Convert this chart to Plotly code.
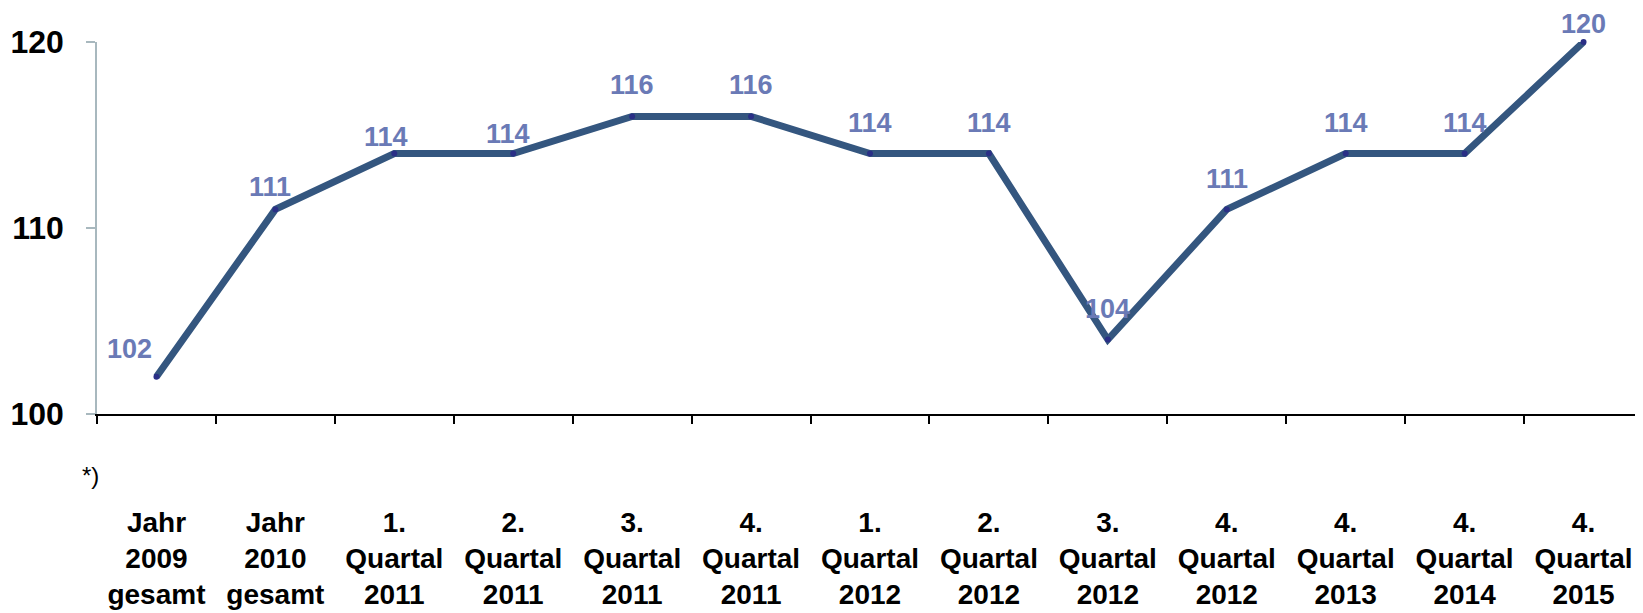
import plotly.graph_objects as go

categories = [
    ["Jahr", "2009", "gesamt"],
    ["Jahr", "2010", "gesamt"],
    ["1.", "Quartal", "2011"],
    ["2.", "Quartal", "2011"],
    ["3.", "Quartal", "2011"],
    ["4.", "Quartal", "2011"],
    ["1.", "Quartal", "2012"],
    ["2.", "Quartal", "2012"],
    ["3.", "Quartal", "2012"],
    ["4.", "Quartal", "2012"],
    ["4.", "Quartal", "2013"],
    ["4.", "Quartal", "2014"],
    ["4.", "Quartal", "2015"],
]
values = [102, 111, 114, 114, 116, 116, 114, 114, 104, 111, 114, 114, 120]
y_ticks = [100, 110, 120]
footnote = "*)"

labels = ["<br>".join(c) for c in categories]

# style: pixel offsets of each value label relative to its point
label_dx = [-27, -5, -8, -5, 0, 0, 0, 0, 0, 0, 0, 0, 0]
label_dy = [28, 22, 17, 20, 31, 31, 31, 31, 31, 30, 31, 31, 18]

L, R, T, B = 89, 8, 34, 207
W, H = 1643, 613
pw, ph = W - L - R, H - T - B

fig = go.Figure()
fig.add_trace(go.Scatter(
    x=labels, y=values,
    mode="lines+markers",
    line=dict(color="#34567f", width=7),
    marker=dict(color="#2a2f86", size=6),
    cliponaxis=False,
    hoverinfo="skip",
))

for xl, v, dx, dy in zip(labels, values, label_dx, label_dy):
    fig.add_annotation(
        x=xl, y=v, xref="x", yref="y", text=str(v), showarrow=False,
        xanchor="center", yanchor="middle", xshift=dx, yshift=dy,
        font=dict(family="Liberation Sans", size=27, color="#6a7ab6", weight="bold"),
    )

fig.update_layout(
    width=W, height=H,
    margin=dict(l=L, r=R, t=T, b=B),
    paper_bgcolor="white", plot_bgcolor="white",
    showlegend=False,
    font=dict(family="Liberation Sans", color="black"),
)
fig.update_xaxes(
    type="category",
    range=[-0.5, 12.5],
    tickson="boundaries",
    ticks="outside", ticklen=8, tickwidth=2, tickcolor="black",
    showline=True, linecolor="black", linewidth=2,
    showgrid=False, zeroline=False,
    tickangle=0,
    automargin=False,
    ticklabelstandoff=82,
    tickfont=dict(family="Liberation Sans", size=28, color="black", weight="bold"),
)
fig.update_yaxes(
    range=[100, 120],
    tickvals=y_ticks,
    ticktext=[str(t) for t in y_ticks],
    ticks="outside", ticklen=9, tickwidth=1.5, tickcolor="#a8b8be",
    showline=True, linecolor="#a8b8be", linewidth=1.5,
    showgrid=False, zeroline=False,
    automargin=False,
    ticklabelstandoff=16,
    tickfont=dict(family="Liberation Sans", size=32, color="black", weight="bold"),
)
fig.add_annotation(
    text=footnote, xref="paper", yref="paper",
    x=(72 - L) / pw, y=((H - B) - 467) / ph,
    xanchor="left", yanchor="middle", showarrow=False,
    font=dict(family="Liberation Sans", size=24, color="black"),
)

fig.write_html("out.html")
